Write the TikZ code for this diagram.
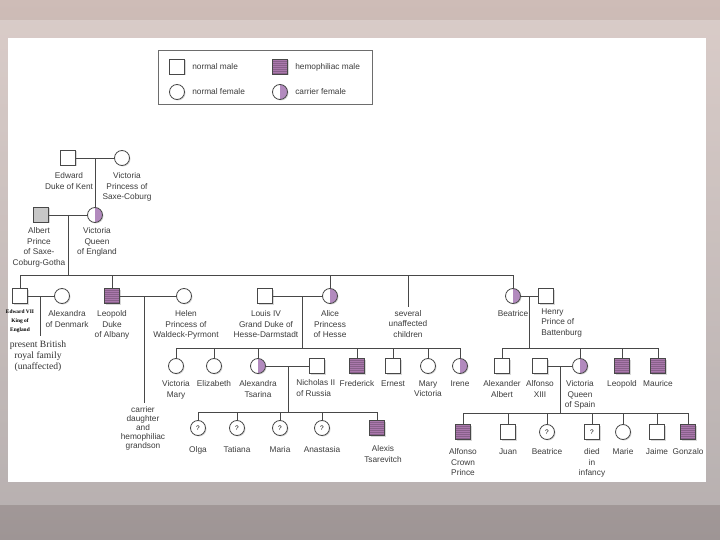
\documentclass[tikz,border=0pt]{standalone}
\usepackage{fontspec}
\setmainfont{Liberation Sans}
\newfontfamily\notefont{Liberation Serif}
\usetikzlibrary{positioning,shadows}
\definecolor{hemo}{RGB}{170,120,172}
\definecolor{carrierhalf}{RGB}{178,138,190}
\definecolor{pedline}{RGB}{72,72,72}
\definecolor{pedtext}{RGB}{60,60,60}
\definecolor{bgtop}{RGB}{206,188,183}
\definecolor{bgbot}{RGB}{158,149,149}
\tikzstyle{person}=[draw=pedline, line width=0.8pt, fill=white, inner sep=0pt,
    minimum size=15pt, font=\fontsize{6.5}{6.5}\selectfont,
    drop shadow={shadow xshift=1pt, shadow yshift=-1pt, fill=black!30}]
\tikzstyle{male}=[person, rectangle]
\tikzstyle{female}=[person, circle]
\tikzstyle{hemomale}=[male, fill=hemo,
    path picture={\foreach \k in {-6,-4,...,6}
      \draw[hemo!80!black, line width=0.25pt]
        ([yshift=\k pt]path picture bounding box.west) --
        ([yshift=\k pt]path picture bounding box.east);}]
\tikzstyle{carrier}=[female,
    path picture={\fill[carrierhalf] (path picture bounding box.north)
      rectangle (path picture bounding box.south east);}]
\tikzstyle{lbl}=[align=center, inner sep=0pt, text=pedtext,
    font=\fontsize{8.3}{10.8}\selectfont]
\newcommand{\male}{\node[male]}
\newcommand{\female}{\node[female]}

\begin{document}
\begin{tikzpicture}[x=1pt, y=-1pt, line width=0.8pt, draw=pedline]
\useasboundingbox (0,0) rectangle (720,540);
% frame and sheet
\shade[top color=bgtop, bottom color=bgbot] (0,0) rectangle (720,540);
\fill[white, opacity=0.25] (0,20) rectangle (720,505);
\fill[white] (8,38) rectangle (706,482);

% key
\draw[pedline!80] (158,50) rectangle (372,104);
\male (keymale) at (177,67) {};
\node[hemomale] (keyhemo) at (280,67) {};
\female (keyfemale) at (177,92) {};
\node[carrier] (keycarrier) at (280,92) {};
\node[lbl, right=7pt of keymale] (keymaletxt) {normal male};
\node[lbl, right=7pt of keyhemo] (keyhemotxt) {hemophiliac male};
\node[lbl, right=7pt of keyfemale] (keyfemaletxt) {normal female};
\node[lbl, right=7pt of keycarrier] (keycarriertxt) {carrier female};

% generation I and II
\male (edward) at (68,158) {};
\female (vickent) at (122,158) {};
\node[male, fill=black!22] (albert) at (41,215) {};
\node[carrier] (victoria) at (95,215) {};
\node[lbl, below=6pt of edward, xshift=1pt] (edwardlbl) {Edward\\Duke of Kent};
\node[lbl, below=6pt of vickent, xshift=5pt] (vickentlbl) {Victoria\\Princess of\\Saxe-Coburg};
\node[lbl, below=4pt of albert, xshift=-2pt] (albertlbl) {Albert\\Prince\\of Saxe-\\Coburg-Gotha};
\node[lbl, below=4pt of victoria, xshift=2pt] (victorialbl) {Victoria\\Queen\\of England};
\draw (edward) -- (vickent);
\draw (victoria.north) -- (victoria.north |- vickent);
\draw (albert) -- (victoria);
\coordinate (wed2) at (68,215);
\coordinate (bar3) at (68,275);
\draw (wed2) -- (bar3);

% generation III
\male (edwardvii) at (20,296) {};
\female (alexandra) at (62,296) {};
\node[hemomale] (leopold) at (112,296) {};
\female (helen) at (184,296) {};
\male (louis) at (265,296) {};
\node[carrier] (alice) at (330,296) {};
\node[carrier] (beatrice) at (513,296) {};
\male (henry) at (546,296) {};
\node[lbl, below=5pt of edwardvii, font=\notefont\bfseries\fontsize{5.4}{9.3}\selectfont, text=black] (edwardviilbl) {Edward VII\\King of\\England};
\node[lbl, below=6pt of alexandra, xshift=5pt] (alexandralbl) {Alexandra\\of Denmark};
\node[lbl, below=6pt of leopold] (leopoldlbl) {Leopold\\Duke\\of Albany};
\node[lbl, below=6pt of helen, xshift=2pt] (helenlbl) {Helen\\Princess of\\Waldeck-Pyrmont};
\node[lbl, below=6pt of louis, xshift=1pt] (louislbl) {Louis IV\\Grand Duke of\\Hesse-Darmstadt};
\node[lbl, below=6pt of alice] (alicelbl) {Alice\\Princess\\of Hesse};
\node[lbl] (several) at (408,324) {several\\unaffected\\children};
\node[lbl, below=6pt of beatrice] (beatricelbl) {Beatrice};
\node[lbl, align=left, anchor=north west] (henrylbl) at (541,308) {Henry\\Prince of\\Battenburg};
\draw (edwardvii.north) |- (beatrice.north |- bar3) -- (beatrice.north);
\foreach \p in {leopold,alice}
  \draw (\p.north) -- (\p.north |- bar3);
\draw (several.north |- bar3) -- ([yshift=3pt]several.north);

% spouses of generation III
\node[lbl, font=\notefont\fontsize{9.6}{11}\selectfont, text=black!80] (royal) at (38,356) {present British\\royal family\\(unaffected)};
\node[lbl, font=\fontsize{8.3}{9}\selectfont] (carriernote) at (143,428) {carrier\\daughter\\and\\hemophiliac\\grandson};
\draw (edwardvii) -- (alexandra);
\coordinate (wed3a) at (40,296);
\draw (wed3a) -- ([yshift=4pt]wed3a |- royal.north);
\draw (leopold) -- (helen);
\coordinate (wed3b) at (144,296);
\draw (wed3b) -- ([yshift=3pt]wed3b |- carriernote.north);
\draw (louis) -- (alice);
\coordinate (wed3c) at (302,296);
\coordinate (bar4h) at (302,348);
\draw (wed3c) -- (bar4h);
\draw (beatrice) -- (henry);
\coordinate (wed3d) at (529,296);
\coordinate (bar4b) at (529,348);
\draw (wed3d) -- (bar4b);

% generation IV, Hesse
\female (vicmary) at (176,366) {};
\female (elizabeth) at (214,366) {};
\node[carrier] (alix) at (258,366) {};
\male (nicholas) at (317,366) {};
\node[hemomale] (frederick) at (357,366) {};
\male (ernest) at (393,366) {};
\female (maryvic) at (428,366) {};
\node[carrier] (irene) at (460,366) {};
\node[lbl, below=6pt of vicmary] (vicmarylbl) {Victoria\\Mary};
\node[lbl, below=6pt of elizabeth] (elizabethlbl) {Elizabeth};
\node[lbl, below=6pt of alix] (alixlbl) {Alexandra\\Tsarina};
\node[lbl, align=left, anchor=north west] (nicholaslbl) at (296,379) {Nicholas II\\of Russia};
\node[lbl, below=6pt of frederick] (fredericklbl) {Frederick};
\node[lbl, below=6pt of ernest] (ernestlbl) {Ernest};
\node[lbl, below=6pt of maryvic] (maryviclbl) {Mary\\Victoria};
\node[lbl, below=6pt of irene] (irenelbl) {Irene};
\draw (vicmary.north) |- (irene.north |- bar4h) -- (irene.north);
\foreach \p in {elizabeth,alix,frederick,ernest,maryvic}
  \draw (\p.north) -- (\p.north |- bar4h);
\draw (alix) -- (nicholas);
\coordinate (wed4a) at (288,366);
\coordinate (bar5r) at (288,412);
\draw (wed4a) -- (bar5r);

% generation IV, Battenberg
\male (alexalbert) at (502,366) {};
\male (alfonso) at (540,366) {};
\node[carrier] (vicspain) at (580,366) {};
\node[hemomale] (leopoldb) at (622,366) {};
\node[hemomale] (maurice) at (658,366) {};
\node[lbl, below=6pt of alexalbert] (alexalbertlbl) {Alexander\\Albert};
\node[lbl, below=6pt of alfonso] (alfonsolbl) {Alfonso\\XIII};
\node[lbl, below=6pt of vicspain] (vicspainlbl) {Victoria\\Queen\\of Spain};
\node[lbl, below=6pt of leopoldb] (leopoldblbl) {Leopold};
\node[lbl, below=6pt of maurice] (mauricelbl) {Maurice};
\draw (alexalbert.north) |- (maurice.north |- bar4b) -- (maurice.north);
\foreach \p in {vicspain,leopoldb}
  \draw (\p.north) -- (\p.north |- bar4b);
\draw (alfonso) -- (vicspain);
\coordinate (wed4b) at (560,366);
\coordinate (bar5s) at (560,413);
\draw (wed4b) -- (bar5s);

% generation V, Russia
\female (olga) at (198,428) {?};
\female (tatiana) at (237,428) {?};
\female (maria) at (280,428) {?};
\female (anastasia) at (322,428) {?};
\node[hemomale] (alexis) at (377,428) {};
\node[lbl, below=10pt of olga] (olgalbl) {Olga};
\node[lbl, below=10pt of tatiana] (tatianalbl) {Tatiana};
\node[lbl, below=10pt of maria] (marialbl) {Maria};
\node[lbl, below=10pt of anastasia] (anastasialbl) {Anastasia};
\node[lbl, below=9pt of alexis, xshift=6pt] (alexislbl) {Alexis\\Tsarevitch};
\draw (olga.north) |- (alexis.north |- bar5r) -- (alexis.north);
\foreach \p in {tatiana,maria,anastasia}
  \draw (\p.north) -- (\p.north |- bar5r);

% generation V, Spain
\node[hemomale] (alfonsocp) at (463,432) {};
\male (juan) at (508,432) {};
\female (beatriz) at (547,432) {?};
\male (infant) at (592,432) {?};
\female (marie) at (623,432) {};
\male (jaime) at (657,432) {};
\node[hemomale] (gonzalo) at (688,432) {};
\node[lbl, below=8pt of alfonsocp] (alfonsocplbl) {Alfonso\\Crown\\Prince};
\node[lbl, below=8pt of juan] (juanlbl) {Juan};
\node[lbl, below=8pt of beatriz] (beatrizlbl) {Beatrice};
\node[lbl, below=8pt of infant] (infantlbl) {died\\in\\infancy};
\node[lbl, below=8pt of marie] (marielbl) {Marie};
\node[lbl, below=8pt of jaime] (jaimelbl) {Jaime};
\node[lbl, below=8pt of gonzalo] (gonzalolbl) {Gonzalo};
\draw (alfonsocp.north) |- (gonzalo.north |- bar5s) -- (gonzalo.north);
\foreach \p in {juan,beatriz,infant,marie,jaime}
  \draw (\p.north) -- (\p.north |- bar5s);
\end{tikzpicture}
\end{document}
